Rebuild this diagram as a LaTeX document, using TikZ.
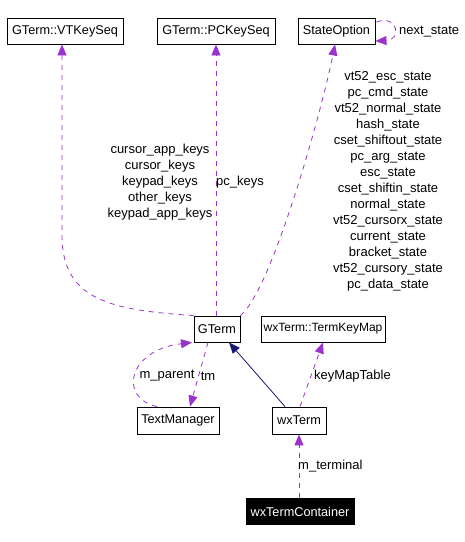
\documentclass[tikz,border=0pt]{standalone}
\usepackage{fontspec}
\setmainfont{Liberation Sans}
\usetikzlibrary{arrows.meta,calc}
\definecolor{dep}{HTML}{9A32CD}
\definecolor{inh}{HTML}{191970}
\tikzset{
  cls/.style={draw=black,line width=0.9pt,fill=white,minimum height=26pt,inner sep=0pt,font=\fontsize{12.7}{15}\selectfont},
  usage/.style={draw=dep,line width=0.8pt,dash pattern=on 5pt off 5pt,-{Triangle[length=11pt,width=9pt,fill=dep]}},
  inherit/.style={draw=inh,line width=0.8pt,-{Triangle[length=11pt,width=9pt,fill=inh]}},
  lbl/.style={font=\fontsize{13}{16}\selectfont,inner sep=0pt,align=center}
}
\begin{document}
\begin{tikzpicture}[x=1pt,y=-1pt]
\useasboundingbox (0,0) rectangle (465,542);
% classes
\node[cls,minimum width=116pt] (vt) at (65,31) {GTerm::VTKeySeq};
\node[cls,minimum width=118pt] (pc) at (216,31) {GTerm::PCKeySeq};
\node[cls,minimum width=77pt] (so) at (336.5,31) {StateOption};
\node[cls,minimum width=46pt] (gt) at (217,329) {GTerm};
\node[cls,minimum width=124pt,font=\fontsize{12}{15}\selectfont] (tkm) at (323,329) {wxTerm::TermKeyMap};
\node[cls,minimum width=82pt,minimum height=27pt] (tm) at (178,420.5) {TextManager};
\node[cls,minimum width=54pt,minimum height=27pt] (wx) at (299,420.5) {wxTerm};
\node[cls,minimum width=108pt,fill=black,text=white] (wxc) at (300,511.5) {wxTermContainer};
% edges
\draw[usage] (gt.north west) .. controls (110,310) and (62,300) .. (62,235) -- ([xshift=-3pt]vt.south);
\draw[usage] ([xshift=-1pt]gt.north) -- (pc.south);
\draw[usage] (gt.north east) .. controls (272,290) and (322,110) .. ([xshift=-1.5pt]so.south);
\draw[usage] ($(so.east)+(1,-9)$) .. controls (398,14) and (402,40) .. ($(so.east)+(0,10)$);
\draw[usage] ([xshift=-21pt]tm.north) .. controls (118,398) and (128,350) .. ([xshift=-25pt]gt.south);
\draw[usage] ([xshift=-9pt]gt.south) -- ([xshift=12pt]tm.north);
\draw[inherit] ([xshift=-14pt]wx.north) -- ([xshift=12pt]gt.south);
\draw[usage] ([xshift=1pt]wx.north) -- (tkm.south);
\draw[usage] (wxc.north -| wx.south) -- (wx.south);
% labels
\node[lbl] (lvt) at (160,182) {cursor\_app\_keys\\cursor\_keys\\keypad\_keys\\other\_keys\\keypad\_app\_keys};
\node[lbl,anchor=west] (lpc) at (216,182) {pc\_keys};
\node[lbl] (lso) at (388,181.5) {vt52\_esc\_state\\pc\_cmd\_state\\vt52\_normal\_state\\hash\_state\\cset\_shiftout\_state\\pc\_arg\_state\\esc\_state\\cset\_shiftin\_state\\normal\_state\\vt52\_cursorx\_state\\current\_state\\bracket\_state\\vt52\_cursory\_state\\pc\_data\_state};
\node[lbl,anchor=west] (lns) at (399,32) {next\_state};
\node[lbl] (lmp) at (167,376) {m\_parent};
\node[lbl] (ltm) at (208,376) {tm};
\node[lbl,anchor=west] (lkm) at (314,376) {keyMapTable};
\node[lbl,anchor=west] (lmt) at (298,466) {m\_terminal};
\end{tikzpicture}
\end{document}
